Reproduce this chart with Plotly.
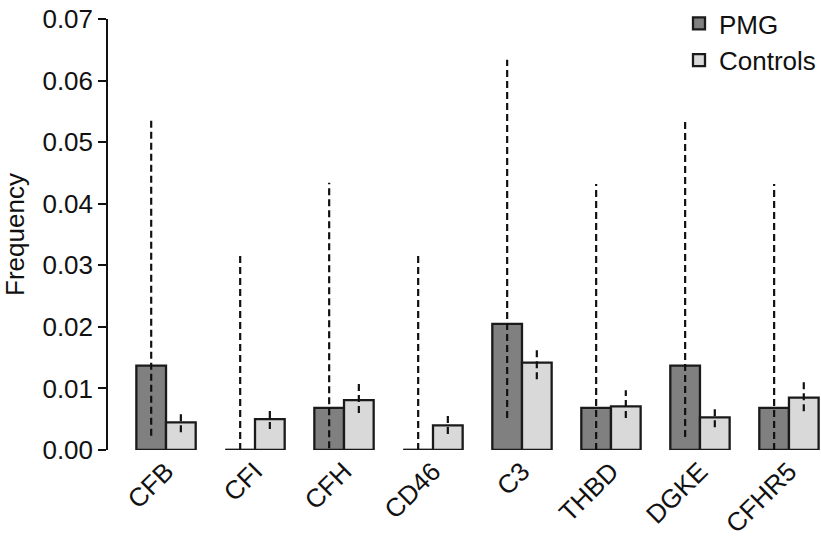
import plotly.graph_objects as go

genes = ["CFB", "CFI", "CFH", "CD46", "C3", "THBD", "DGKE", "CFHR5"]
pmg = [0.0137, 0.0, 0.00685, 0.0, 0.0205, 0.00685, 0.0137, 0.00685]
pmg_lo = [0.0023, 0.0, 0.0003, 0.0, 0.0052, 0.0, 0.0021, 0.0]
pmg_hi = [0.0537, 0.0319, 0.0434, 0.0319, 0.0634, 0.0432, 0.0537, 0.0432]
ctrl = [0.0045, 0.0050, 0.0081, 0.0040, 0.0142, 0.0071, 0.0053, 0.0085]
ctrl_lo = [0.0029, 0.0034, 0.0060, 0.0026, 0.0115, 0.0052, 0.0037, 0.0063]
ctrl_hi = [0.0061, 0.0066, 0.0108, 0.0058, 0.0168, 0.0097, 0.0069, 0.0113]
y_ticks = [0.00, 0.01, 0.02, 0.03, 0.04, 0.05, 0.06, 0.07]

FONT = "Liberation Sans, Arial, sans-serif"
FS = 26
bw = 1 / 3
idx = list(range(len(genes)))
x_pmg = [i - bw / 2 for i in idx]
x_ctrl = [i + bw / 2 for i in idx]

fig = go.Figure()
fig.add_trace(go.Bar(x=x_pmg, y=pmg, width=bw, name="PMG",
                     marker=dict(color="#808080", line=dict(color="#1a1a1a", width=2.3))))
fig.add_trace(go.Bar(x=x_ctrl, y=ctrl, width=bw, name="Controls",
                     marker=dict(color="#d9d9d9", line=dict(color="#1a1a1a", width=2.3))))


def seg(xs, lo, hi):
    X, Y = [], []
    for x, a, b in zip(xs, lo, hi):
        X += [x, x, None]
        Y += [a, b, None]
    return X, Y


X, Y = seg(x_pmg, pmg_lo, pmg_hi)
fig.add_trace(go.Scatter(x=X, y=Y, mode="lines", showlegend=False, hoverinfo="skip",
                         line=dict(color="#111", width=2.2, dash="7px,4px")))
X, Y = seg(x_ctrl, ctrl_lo, ctrl_hi)
fig.add_trace(go.Scatter(x=X, y=Y, mode="lines", showlegend=False, hoverinfo="skip",
                         line=dict(color="#111", width=2.2, dash="7px,4px")))

# zero-height bars drawn as baseline segments
zx, zy = [], []
for x, v in zip(x_pmg, pmg):
    if v == 0:
        zx += [x - bw / 2, x + bw / 2, None]
        zy += [0, 0, None]
fig.add_trace(go.Scatter(x=zx, y=zy, mode="lines", showlegend=False, hoverinfo="skip",
                         line=dict(color="#1a1a1a", width=2.3), cliponaxis=False))

fig.update_layout(
    width=821, height=543,
    margin=dict(l=108, r=0, t=16, b=93),
    barmode="overlay",
    plot_bgcolor="white", paper_bgcolor="white",
    font=dict(family=FONT, size=FS, color="#111"),
    showlegend=True,
    legend=dict(x=1.0, xanchor="right", y=1.045, yanchor="top",
                font=dict(size=FS), bgcolor="rgba(0,0,0,0)", tracegroupgap=0,
                itemwidth=30),
    xaxis=dict(range=[-0.652, 7.36], tickmode="array", tickvals=idx, ticktext=genes,
               tickangle=-45, showgrid=False, zeroline=False, showline=False,
               ticks="", tickfont=dict(size=FS)),
    yaxis=dict(range=[0, 0.07], tickmode="array", tickvals=y_ticks,
               tickformat=".2f", showgrid=False, zeroline=False,
               showline=True, linecolor="#111", linewidth=1.5,
               ticks="outside", ticklen=8, tickwidth=1.5, tickcolor="#111",
               title=dict(text="Frequency", font=dict(size=FS), standoff=12),
               tickfont=dict(size=FS)),
)

fig.write_html("out.html", config={"displayModeBar": False},
               post_script="document.body.style.margin='0';")
